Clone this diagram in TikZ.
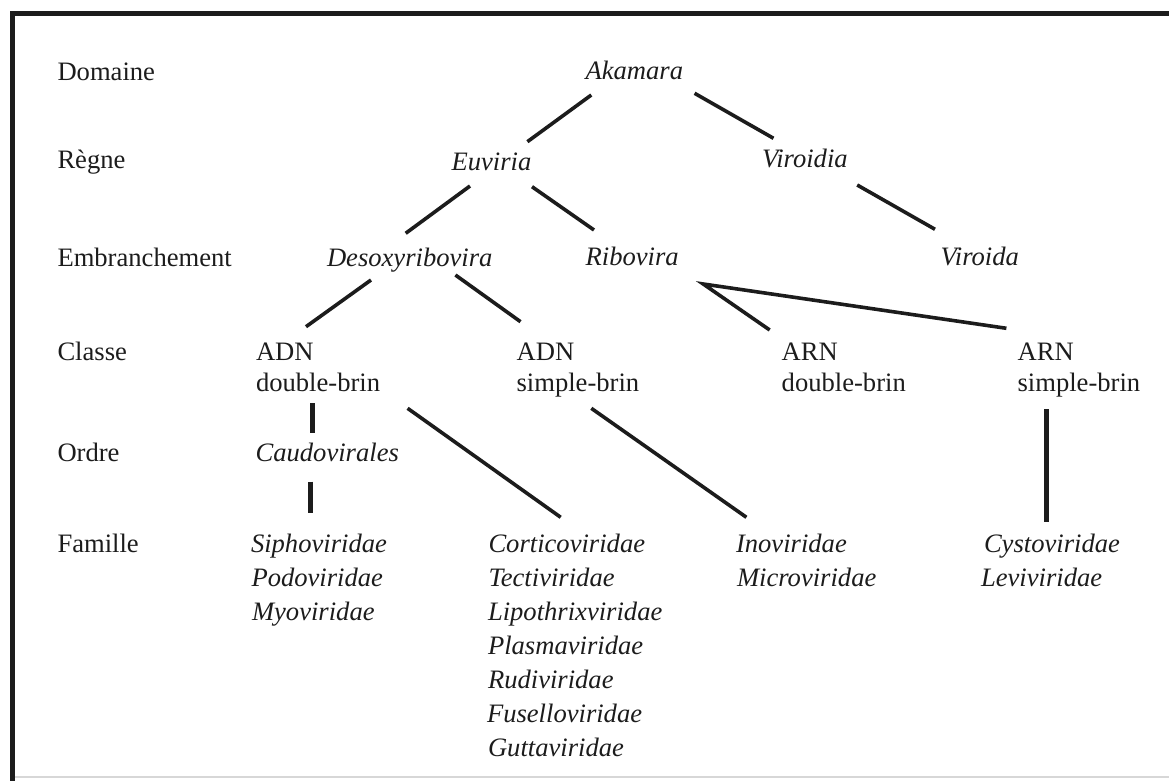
\documentclass[tikz,border=0pt]{standalone}
\usepackage{fontspec}
\setmainfont{Liberation Serif}
\definecolor{ink}{RGB}{28,28,28}
\definecolor{faint}{RGB}{215,215,215}
\begin{document}
\begin{tikzpicture}[x=0.5pt,y=-0.5pt,
  txt/.style={anchor=base west,inner sep=0pt,outer sep=0pt,text=ink,font=\fontsize{13.3}{16}\selectfont},
  taxon/.style={txt,font=\fontsize{13.3}{16}\selectfont\itshape},
  link/.style={draw=ink,line width=1.8pt},
  vlink/.style={draw=ink,line width=2.3pt},
  frame/.style={draw=ink,line width=2.2pt}]
\useasboundingbox (0,0) rectangle (1169,781);
% frame
\coordinate (tl) at (12.5,13.5);
\coordinate (tr) at (1169,13.5);
\coordinate (bl) at (12.5,781);
\coordinate (fbl) at (12.5,777);
\coordinate (fbr) at (1169,777);
\draw[faint,line width=1pt] (fbl) -- (fbr);
\draw[frame,line cap=rect] (bl) -- (tl) -- (tr);
% rank labels
\node[txt] (dom) at (57.5,81) {Domaine};
\node[txt] (reg) at (57.5,169) {Règne};
\node[txt] (emb) at (57.5,267) {Embranchement};
\node[txt] (cla) at (57.5,360) {Classe};
\node[txt] (ord) at (57.5,461) {Ordre};
\node[txt] (fam) at (57.5,552) {Famille};
% taxa
\node[taxon] (akamara) at (585.6,80) {Akamara};
\node[taxon] (euviria) at (451.6,170) {Euviria};
\node[taxon] (viroidia) at (762,168) {Viroidia};
\node[taxon] (desoxy) at (327,267) {Desoxyribovira};
\node[taxon] (ribovira) at (585.6,265) {Ribovira};
\node[taxon] (viroida) at (940.6,265) {Viroida};
% classes
\node[txt] (adnd) at (256,360) {ADN};
\node[txt] (adnd2) at (256,391.7) {double-brin};
\node[txt] (adns) at (516.6,360) {ADN};
\node[txt] (adns2) at (516.6,391.7) {simple-brin};
\node[txt] (arnd) at (781.7,360) {ARN};
\node[txt] (arnd2) at (781.7,391.7) {double-brin};
\node[txt] (arns) at (1017.6,360) {ARN};
\node[txt] (arns2) at (1017.6,391.7) {simple-brin};
% order
\node[taxon] (caudo) at (255.6,461) {Caudovirales};
% families
\node[taxon] (sipho) at (251,552) {Siphoviridae};
\node[taxon] (podo) at (251.5,586.2) {Podoviridae};
\node[taxon] (myo) at (252,620.3) {Myoviridae};
\node[taxon] (cortico) at (488.5,552) {Corticoviridae};
\node[taxon] (tecti) at (488.5,586.2) {Tectiviridae};
\node[taxon] (lipo) at (488,620.3) {Lipothrixviridae};
\node[taxon] (plasma) at (488,654.4) {Plasmaviridae};
\node[taxon] (rudi) at (488,688.5) {Rudiviridae};
\node[taxon] (fusello) at (487,722.7) {Fuselloviridae};
\node[taxon] (gutta) at (488,756.8) {Guttaviridae};
\node[taxon] (ino) at (736,552) {Inoviridae};
\node[taxon] (micro) at (737,586.2) {Microviridae};
\node[taxon] (cysto) at (984,552) {Cystoviridae};
\node[taxon] (levi) at (981,586.2) {Leviviridae};
% connector end points
\coordinate (ak-l) at (591.3,95);   \coordinate (eu-t) at (527.4,141.7);
\coordinate (ak-r) at (694.6,93.3); \coordinate (vi-t) at (773.5,138.3);
\coordinate (eu-l) at (470,186);    \coordinate (de-t) at (405.7,233.3);
\coordinate (eu-r) at (532,186.7);  \coordinate (ri-t) at (594,230);
\coordinate (vi-r) at (857.2,185);  \coordinate (vo-t) at (935,229.3);
\coordinate (de-l) at (371,280);    \coordinate (ad-t) at (306,326.7);
\coordinate (de-r) at (455.4,275);  \coordinate (as-t) at (520.5,321.7);
\coordinate (ri-b) at (703.2,284);
\coordinate (rd-t) at (769.7,330);  \coordinate (rs-t) at (1006.4,328.3);
\coordinate (ad-b) at (312.7,403);  \coordinate (ca-t) at (312.7,433);
\coordinate (ad-r) at (407.6,408.3);\coordinate (co-t) at (560.7,517.3);
\coordinate (as-b) at (591.3,408.3);\coordinate (in-t) at (746.4,517.3);
\coordinate (ca-b) at (310.5,481.7);\coordinate (si-t) at (310.5,512.7);
\coordinate (rs-b) at (1046.6,409.3);\coordinate (cy-t) at (1046.6,521.7);
% connectors
\draw[link] (ak-l) -- (eu-t);
\draw[link] (ak-r) -- (vi-t);
\draw[link] (eu-l) -- (de-t);
\draw[link] (eu-r) -- (ri-t);
\draw[link] (vi-r) -- (vo-t);
\draw[link] (de-l) -- (ad-t);
\draw[link] (de-r) -- (as-t);
\draw[link] (rd-t) -- (ri-b) -- (rs-t);
\draw[vlink] (ad-b) -- (ca-t);
\draw[link] (ad-r) -- (co-t);
\draw[link] (as-b) -- (in-t);
\draw[vlink] (ca-b) -- (si-t);
\draw[vlink] (rs-b) -- (cy-t);
\end{tikzpicture}
\end{document}
